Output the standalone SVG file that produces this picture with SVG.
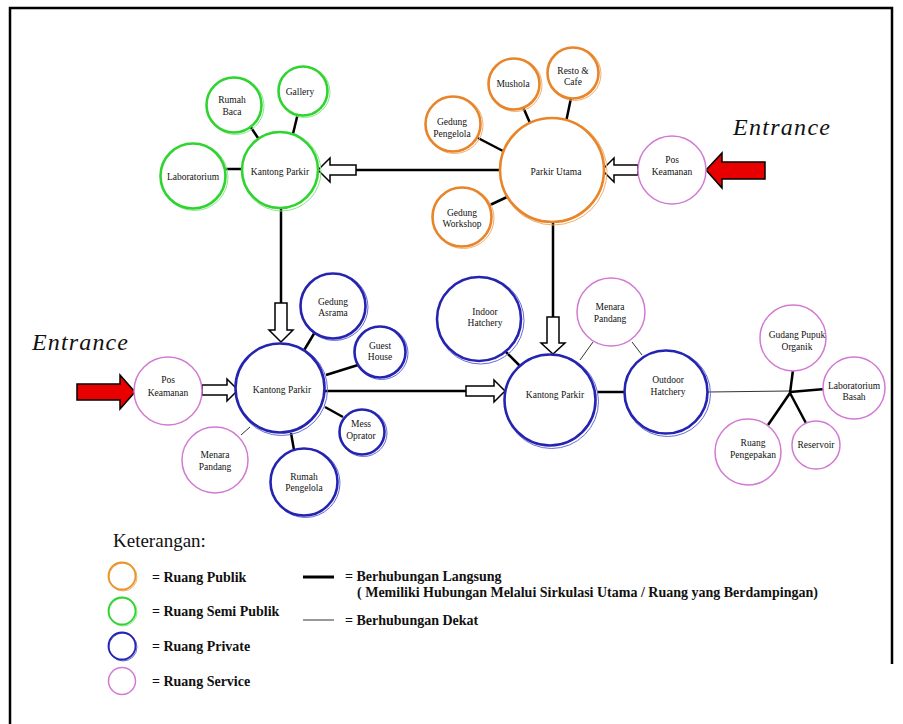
<svg xmlns="http://www.w3.org/2000/svg" width="903" height="724" viewBox="0 0 903 724">
<style>
text{font-family:"Liberation Serif","Times New Roman",serif;fill:#111}
.n{font-size:9.5px;text-anchor:middle}
.ent{font-size:24px;font-style:italic}
.lg{font-size:14px;font-weight:bold}
.k{font-size:19px}
.c{stroke:#000;stroke-width:2.5;fill:none}
.t{stroke:#333;stroke-width:1;fill:none}
.ha{fill:#fff;stroke:#000;stroke-width:1.5}
.ra{fill:#e80000;stroke:#000;stroke-width:1.5}
.o1{fill:#fff;stroke:#e8842a;stroke-width:2.6}
.o2{fill:none;stroke:#f0b070;stroke-width:1}
.g1{fill:#fff;stroke:#30d430;stroke-width:2.6}
.g2{fill:none;stroke:#8be88b;stroke-width:1}
.b1{fill:#fff;stroke:#2424b0;stroke-width:2.6}
.b2{fill:none;stroke:#6a6ad8;stroke-width:1}
.p1{fill:#fff;stroke:#d27ad2;stroke-width:1.5}
</style>
<path d="M10 724 V8 H892 V664" fill="none" stroke="#000" stroke-width="2.5"/>
<g id="connectors">
<line class="c" x1="248" y1="123" x2="260" y2="141"/>
<line class="c" x1="298" y1="113" x2="292" y2="138"/>
<line class="c" x1="225" y1="169" x2="245" y2="169"/>
<line class="c" x1="523" y1="107" x2="530" y2="123"/>
<line class="c" x1="571" y1="98" x2="566" y2="122"/>
<line class="c" x1="478" y1="138" x2="503" y2="151"/>
<line class="c" x1="490" y1="205" x2="507" y2="197"/>
<line class="c" x1="340" y1="170" x2="502" y2="170"/>
<line class="c" x1="553" y1="221" x2="553" y2="320"/>
<line class="c" x1="281" y1="207" x2="281" y2="306"/>
<line class="c" x1="315" y1="332" x2="303" y2="352"/>
<line class="c" x1="358" y1="365" x2="326" y2="375"/>
<line class="c" x1="325" y1="407" x2="343" y2="417"/>
<line class="c" x1="291" y1="433" x2="294" y2="450"/>
<line class="c" x1="325" y1="391" x2="470" y2="391"/>
<line class="t" x1="250" y1="427" x2="241" y2="435"/>
<line class="c" x1="506" y1="352" x2="520" y2="366"/>
<line class="t" x1="593" y1="342" x2="580" y2="360"/>
<line class="t" x1="632" y1="342" x2="642" y2="355"/>
<line class="c" x1="597" y1="392" x2="624" y2="392"/>
<line class="t" x1="708" y1="392" x2="790" y2="391"/>
<line class="c" x1="790" y1="393" x2="793" y2="370"/>
<line class="c" x1="790" y1="392" x2="825" y2="389"/>
<line class="c" x1="790" y1="393" x2="768" y2="425"/>
<line class="c" x1="790" y1="393" x2="807" y2="425"/>
<polygon class="ha" points="318,170 330,158 330,165 356,165 356,175 330,175 330,182"/>
<polygon class="ha" points="602,170 614,158 614,165 638,165 638,175 614,175 614,182"/>
<polygon class="ha" points="275,303 287,303 287,330 293,330 281,342 269,330 275,330"/>
<polygon class="ha" points="202,385 227,385 227,379 238,390 227,401 227,395 202,395"/>
<polygon class="ha" points="466,386 494,386 494,380 505,391 494,402 494,396 466,396"/>
<polygon class="ha" points="547,317 559,317 559,343 565,343 553,354 541,343 547,343"/>
<polygon class="ra" points="706,170 722,153 722,162 765,162 765,179 722,179 722,188"/>
<polygon class="ra" points="135,392 120,375 120,384 77,384 77,400 120,400 120,409"/>
</g>
<g id="entrance-right"><text class="ent" x="733" y="135" textLength="97">Entrance</text></g>
<g id="entrance-left"><text class="ent" x="32" y="350" textLength="96">Entrance</text></g>
<g id="green-kantong"><circle class="g2" cx="281.5" cy="171.5" r="39.5"/><circle class="g1" cx="280" cy="170" r="38"/><text class="n" x="280" y="175">Kantong Parkir</text></g>
<g id="laboratorium"><circle class="g2" cx="194.5" cy="177" r="33.5"/><circle class="g1" cx="193" cy="176" r="32.5"/><text class="n" x="193" y="180">Laboratorium</text></g>
<g id="rumah-baca"><circle class="g2" cx="235.5" cy="106" r="28.5"/><circle class="g1" cx="234" cy="105" r="27.5"/><text class="n" x="232" y="103">Rumah</text><text class="n" x="232" y="115">Baca</text></g>
<g id="gallery"><circle class="g2" cx="304.5" cy="92" r="25.5"/><circle class="g1" cx="303" cy="91" r="24.5"/><text class="n" x="300" y="95">Gallery</text></g>
<g id="parkir-utama"><circle class="o2" cx="553.5" cy="171.5" r="53.5"/><circle class="o1" cx="552" cy="170" r="52"/><text class="n" x="556" y="175">Parkir Utama</text></g>
<g id="mushola"><circle class="o2" cx="515.5" cy="85" r="26.5"/><circle class="o1" cx="514" cy="84" r="25.5"/><text class="n" x="513" y="87">Mushola</text></g>
<g id="resto"><circle class="o2" cx="574.5" cy="74" r="26.5"/><circle class="o1" cx="573" cy="73" r="25.5"/><text class="n" x="573" y="74">Resto &amp;</text><text class="n" x="573" y="85">Cafe</text></g>
<g id="gedung-pengelola"><circle class="o2" cx="454.5" cy="125" r="28.5"/><circle class="o1" cx="453" cy="124" r="27.5"/><text class="n" x="452" y="125">Gedung</text><text class="n" x="452" y="137">Pengelola</text></g>
<g id="gedung-workshop"><circle class="o2" cx="463.5" cy="218" r="30.5"/><circle class="o1" cx="462" cy="217" r="29.5"/><text class="n" x="462" y="216">Gedung</text><text class="n" x="462" y="227">Workshop</text></g>
<g id="pos-kanan"><circle class="p1" cx="672" cy="170" r="34"/><text class="n" x="672" y="163">Pos</text><text class="n" x="672" y="175">Keamanan</text></g>
<g id="pos-kiri"><circle class="p1" cx="168" cy="391" r="34"/><text class="n" x="168" y="383">Pos</text><text class="n" x="168" y="396">Keamanan</text></g>
<g id="menara-kiri"><circle class="p1" cx="215" cy="460" r="33"/><text class="n" x="215" y="458">Menara</text><text class="n" x="215" y="470">Pandang</text></g>
<g id="blue-kantong-kiri"><circle class="b2" cx="281.5" cy="389.5" r="46"/><circle class="b1" cx="280" cy="388" r="44.5"/><text class="n" x="282" y="393">Kantong Parkir</text></g>
<g id="gedung-asrama"><circle class="b2" cx="334.5" cy="307" r="33.5"/><circle class="b1" cx="333" cy="306" r="32.5"/><text class="n" x="333" y="305">Gedung</text><text class="n" x="333" y="316">Asrama</text></g>
<g id="guest-house"><circle class="b2" cx="381.5" cy="353" r="26.5"/><circle class="b1" cx="380" cy="352" r="25.5"/><text class="n" x="380" y="349">Guest</text><text class="n" x="380" y="360">House</text></g>
<g id="mess-oprator"><circle class="b2" cx="363.5" cy="433" r="23.5"/><circle class="b1" cx="362" cy="432" r="22.5"/><text class="n" x="361" y="427">Mess</text><text class="n" x="361" y="439">Oprator</text></g>
<g id="rumah-pengelola"><circle class="b2" cx="305.5" cy="483" r="34.5"/><circle class="b1" cx="304" cy="482" r="33.5"/><text class="n" x="304" y="480">Rumah</text><text class="n" x="304" y="491">Pengelola</text></g>
<g id="blue-kantong-kanan"><circle class="b2" cx="551.5" cy="401.5" r="47"/><circle class="b1" cx="550" cy="400" r="45.5"/><text class="n" x="555" y="398">Kantong Parkir</text></g>
<g id="indoor-hatchery"><circle class="b2" cx="480.5" cy="320.5" r="43.5"/><circle class="b1" cx="479" cy="319" r="42"/><text class="n" x="485" y="315">Indoor</text><text class="n" x="485" y="326">Hatchery</text></g>
<g id="outdoor-hatchery"><circle class="b2" cx="667.5" cy="393.5" r="43"/><circle class="b1" cx="666" cy="392" r="41.5"/><text class="n" x="668" y="383">Outdoor</text><text class="n" x="668" y="395">Hatchery</text></g>
<g id="menara-kanan"><circle class="p1" cx="611" cy="312" r="34"/><text class="n" x="610" y="310">Menara</text><text class="n" x="610" y="322">Pandang</text></g>
<g id="gudang-pupuk"><circle class="p1" cx="793" cy="338" r="33"/><text class="n" x="797" y="338">Gudang Pupuk</text><text class="n" x="797" y="350">Organik</text></g>
<g id="lab-basah"><circle class="p1" cx="854" cy="388" r="31"/><text class="n" x="854" y="389">Laboratorium</text><text class="n" x="854" y="400">Basah</text></g>
<g id="ruang-pengepakan"><circle class="p1" cx="748" cy="452" r="33"/><text class="n" x="753" y="446">Ruang</text><text class="n" x="753" y="458">Pengepakan</text></g>
<g id="reservoir"><circle class="p1" cx="816" cy="445" r="24"/><text class="n" x="816" y="448">Reservoir</text></g>
<g id="legend">
<text class="k" x="113" y="547">Keterangan:</text>
<circle class="o2" cx="123" cy="577" r="14"/><circle cx="122" cy="576" r="13.5" fill="none" stroke="#e8942a" stroke-width="1.8"/>
<circle class="g2" cx="123" cy="612" r="14"/><circle cx="122" cy="611" r="13.5" fill="none" stroke="#30d430" stroke-width="1.8"/>
<circle class="b2" cx="123" cy="647" r="14"/><circle cx="122" cy="646" r="13.5" fill="none" stroke="#2424b0" stroke-width="1.8"/>
<circle cx="122" cy="681" r="13.5" fill="none" stroke="#d27ad2" stroke-width="1.5"/>
<text class="lg" x="152" y="582">= Ruang Publik</text>
<text class="lg" x="152" y="616">= Ruang Semi Publik</text>
<text class="lg" x="152" y="651">= Ruang Private</text>
<text class="lg" x="152" y="686">= Ruang Service</text>
<line x1="303" y1="577" x2="334" y2="577" stroke="#000" stroke-width="3"/>
<line x1="303" y1="620" x2="334" y2="620" stroke="#333" stroke-width="1"/>
<text class="lg" x="345" y="581">= Berhubungan Langsung</text>
<text class="lg" x="357" y="597">( Memiliki Hubungan Melalui Sirkulasi Utama / Ruang yang Berdampingan)</text>
<text class="lg" x="345" y="625">= Berhubungan Dekat</text>
</g>
</svg>
